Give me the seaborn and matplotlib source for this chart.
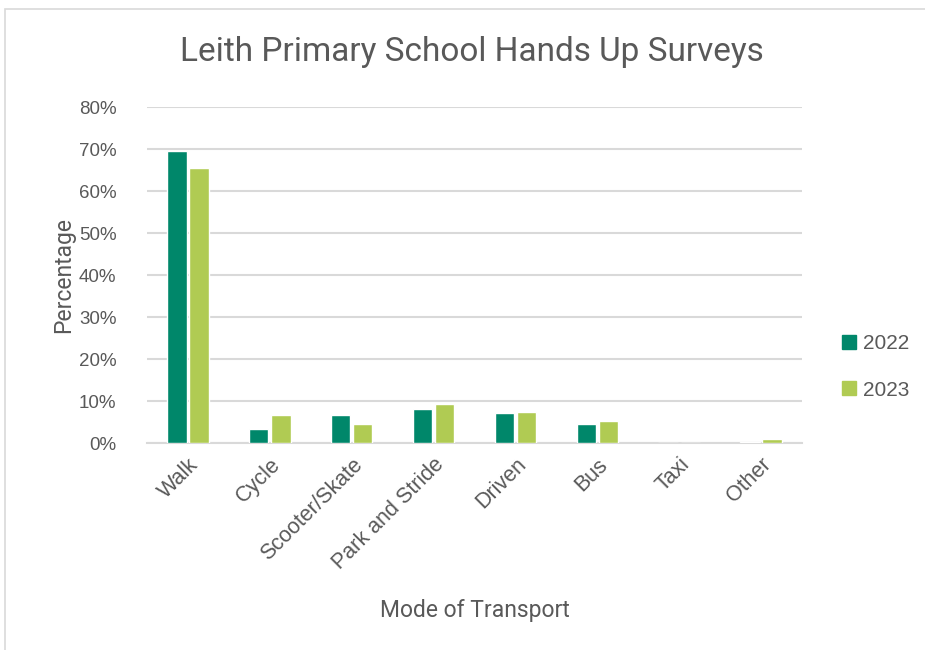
import matplotlib
matplotlib.use("Agg")
import matplotlib.pyplot as plt
import seaborn as sns
import pandas as pd
from matplotlib.patches import Rectangle
from matplotlib.lines import Line2D
from matplotlib.ticker import PercentFormatter

categories = ["Walk", "Cycle", "Scooter/Skate", "Park and Stride", "Driven", "Bus", "Taxi", "Other"]
years = ["2022", "2023"]
values_2022 = [69.6, 3.3, 6.7, 8.0, 7.1, 4.5, 0.0, 0.3]
values_2023 = [65.5, 6.6, 4.5, 9.2, 7.4, 5.2, 0.0, 0.9]
yticks = [0, 10, 20, 30, 40, 50, 60, 70, 80]
colors = {"2022": "#00876A", "2023": "#B0CB53"}

df = pd.DataFrame({
    "Mode": categories * 2,
    "Year": ["2022"] * len(categories) + ["2023"] * len(categories),
    "Value": values_2022 + values_2023,
})

sns.set_theme(style="white")
plt.rcParams['font.family'] = ['Liberation Sans', 'DejaVu Sans']
text_col = "#595959"
grid_col = "#D9D9D9"

fig = plt.figure(figsize=(9.25, 6.5), dpi=100)
ax = fig.add_axes([147/925, 1 - 443/650, 655/925, 336/650])

sns.barplot(data=df, x="Mode", y="Value", hue="Year", palette=colors,
            order=categories, hue_order=years, width=0.54, gap=0.12,
            ax=ax, legend=False, saturation=1, zorder=3)

ax.set_ylim(0, 80)
ax.set_yticks(yticks)
ax.yaxis.set_major_formatter(PercentFormatter(decimals=0))
ax.grid(axis="y", color=grid_col, linewidth=1.5, zorder=0)
ax.set_axisbelow(True)
for s in ["top", "right", "left"]:
    ax.spines[s].set_visible(False)
ax.spines["bottom"].set_color(grid_col)
ax.spines["bottom"].set_linewidth(1.5)
ax.spines["bottom"].set_zorder(0.5)
ax.tick_params(axis="y", length=0, pad=22, labelsize=13.5, labelcolor=text_col)
ax.tick_params(axis="x", length=0, pad=8, labelsize=15.5, labelcolor=text_col)
for lab in ax.get_xticklabels():
    lab.set_rotation(45)
    lab.set_ha("right")
    lab.set_rotation_mode("anchor")

ax.set_xlabel("Mode of Transport", fontsize=16.5, color=text_col, family="Roboto", labelpad=18)
ax.set_ylabel("Percentage", fontsize=16.5, color=text_col, family="Roboto", labelpad=3)
fig.text(472/925, 1 - 52/650, "Leith Primary School Hands Up Surveys", ha="center", va="center",
         fontsize=24, color=text_col, family="Roboto")

handles = [Line2D([], [], marker="s", linestyle="none", markersize=10,
                  markerfacecolor=colors[y], markeredgecolor=colors[y]) for y in years]
fig.legend(handles, years, loc="center left", bbox_to_anchor=(828/925, 1 - 367/650),
           frameon=False, fontsize=15, labelcolor=text_col, handletextpad=0.2,
           labelspacing=1.3, handlelength=1.0, borderpad=0)

fig.patches.append(Rectangle((5/925, -0.1), 1.1, 1 - 9/650 + 0.1, transform=fig.transFigure,
                             fill=False, edgecolor=grid_col, linewidth=1.2))

fig.savefig("out.png", dpi=100)
